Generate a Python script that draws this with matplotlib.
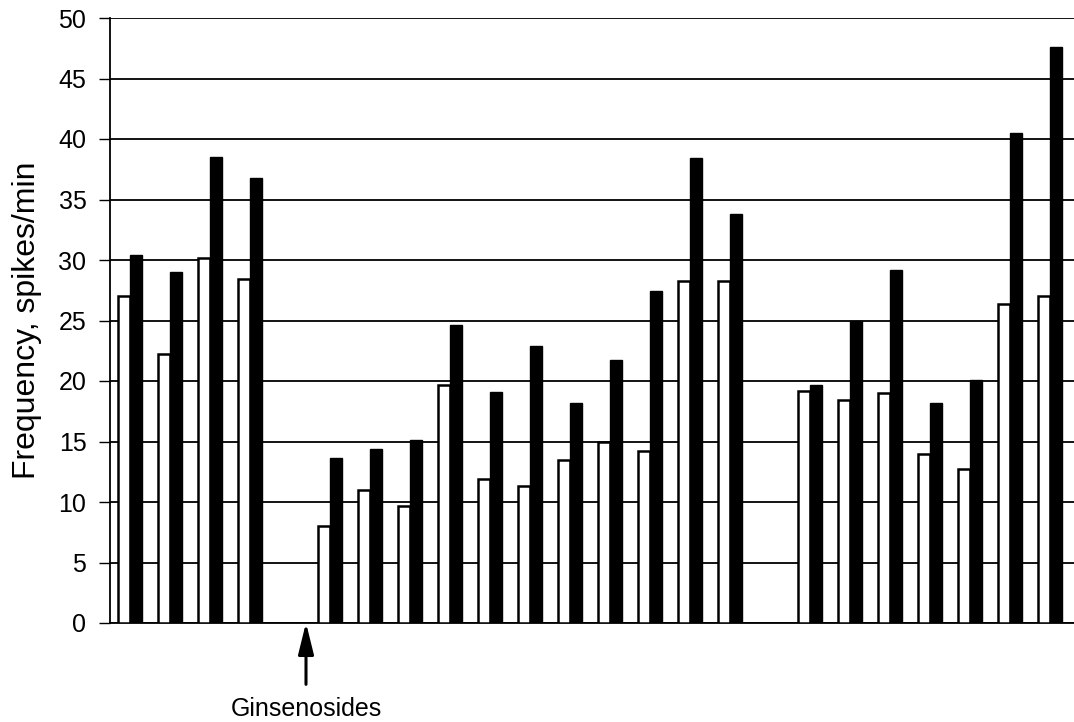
import matplotlib
matplotlib.use("Agg")
import matplotlib.pyplot as plt
import numpy as np

plt.rcParams["font.family"] = ["Liberation Sans", "DejaVu Sans"]

# Spike frequency per recording: before (open bars) and after (filled bars)
before_g1 = [27.0, 22.2, 30.2, 28.4]
after_g1 = [30.4, 29.0, 38.5, 36.8]

before_g2 = [8.0, 11.0, 9.7, 19.7, 11.9, 11.3, 13.5, 15.0, 14.25, 28.3, 28.3]
after_g2 = [13.6, 14.4, 15.1, 24.6, 19.1, 22.9, 18.2, 21.7, 27.4, 38.4, 33.8]

before_g3 = [19.2, 18.4, 19.0, 14.0, 12.7, 26.4, 27.0]
after_g3 = [19.65, 24.95, 29.2, 18.2, 20.1, 40.5, 47.6]

yticks = list(range(0, 51, 5))
ylabel = "Frequency, spikes/min"
marker_label = "Ginsenosides"

groups = [(before_g1, after_g1), (before_g2, after_g2), (before_g3, after_g3)]

fig = plt.figure(figsize=(10.74, 7.22), dpi=100)
ax = fig.add_axes([110 / 1074, (722 - 623) / 722, 964 / 1074, 605 / 722])

bw = 0.31
slot = 0
gap_slots = []
for gi, (b, a) in enumerate(groups):
    x = np.arange(slot, slot + len(b))
    ax.bar(x - bw / 2, b, width=bw, color="white", edgecolor="black",
           linewidth=1.8, zorder=3)
    ax.bar(x + bw / 2, a, width=bw, color="black", edgecolor="black",
           linewidth=1.0, zorder=3)
    slot += len(b)
    gap_slots.append(slot)
    slot += 1

ax.set_xlim(-0.5, 23.6)
ax.set_ylim(0, 50)
ax.set_yticks(yticks)
ax.set_xticks([])
ax.yaxis.grid(True, color="black", linewidth=1.3)
ax.set_axisbelow(True)

for s in ("top", "right"):
    ax.spines[s].set_visible(False)
ax.spines["left"].set_linewidth(1.3)
ax.spines["bottom"].set_linewidth(1.3)
ax.tick_params(axis="y", direction="out", length=8, width=1.0,
               labelsize=18, pad=9)
ax.set_ylabel(ylabel, fontsize=23, labelpad=12)

# Arrow marking ginsenoside application
ax_x = gap_slots[0] + 0.4
ax.annotate("", xy=(ax_x, 0.25), xytext=(ax_x, -5.3),
            arrowprops=dict(arrowstyle="-|>,head_length=1.9,head_width=0.47",
                            color="black", lw=2.2),
            annotation_clip=False)
ax.text(ax_x, -6.1, marker_label, ha="center", va="top", fontsize=18,
        clip_on=False)

fig.savefig("out.png", dpi=100)
